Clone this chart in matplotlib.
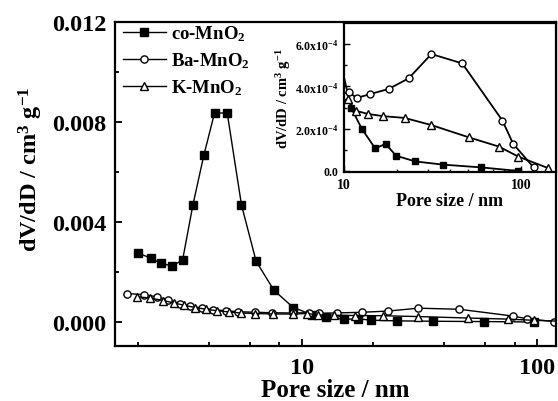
import matplotlib
matplotlib.use("Agg")
import matplotlib.pyplot as plt
from matplotlib.ticker import FixedLocator, FixedFormatter, NullFormatter

plt.rcParams['font.family'] = ['Liberation Serif', 'DejaVu Serif']
plt.rcParams['font.weight'] = 'bold'
plt.rcParams['mathtext.fontset'] = 'custom'
plt.rcParams['mathtext.rm'] = 'Liberation Serif:bold'
plt.rcParams['mathtext.bf'] = 'Liberation Serif:bold'
plt.rcParams['mathtext.it'] = 'Liberation Serif:bold:italic'
plt.rcParams['mathtext.default'] = 'rm'

# ---------------- data ----------------
co_x = [2.01, 2.27, 2.51, 2.79, 3.10, 3.43, 3.82, 4.24, 4.80, 5.52, 6.37, 7.58, 9.16,
        10.96, 12.6, 15.0, 17.2, 19.7, 25.3, 36.1, 59.2, 96.7]
co_y = [0.00276, 0.00255, 0.00235, 0.00224, 0.00247, 0.00468, 0.00668, 0.00836, 0.00836,
        0.00468, 0.00243, 0.00127, 0.00058, 0.00030, 0.00020, 0.000107, 0.000128, 0.000072,
        0.000045, 0.000030, 0.000017, 0.0]

ba_x = [1.80, 2.13, 2.41, 2.70, 3.03, 3.34, 3.74, 4.19, 4.75, 5.36, 6.31, 7.43, 9.13,
        10.7, 11.8, 14.1, 17.9, 23.2, 31.2, 46.6, 78.7, 90.5, 118.0]
ba_y = [0.00114, 0.00109, 0.00101, 0.00088, 0.00074, 0.00064, 0.00056, 0.00049, 0.00045,
        0.00041, 0.00039, 0.00037, 0.00036, 0.000372, 0.000345, 0.000364, 0.000388,
        0.000438, 0.000553, 0.000509, 0.000238, 0.000128, 0.000017]

k_x = [1.98, 2.25, 2.57, 2.85, 3.15, 3.50, 3.90, 4.35, 4.90, 5.50, 6.30, 7.50, 9.10,
       10.5, 11.65, 13.6, 16.7, 22.0, 31.2, 50.8, 75.3, 96.6, 143.0]
k_y = [0.00101, 0.00096, 0.00086, 0.00076, 0.00067, 0.00058, 0.00051, 0.00045, 0.00040,
       0.00036, 0.00034, 0.00032, 0.00032, 0.000340, 0.000285, 0.000270, 0.000259,
       0.000251, 0.000217, 0.000159, 0.000115, 0.000068, 0.000013]

series_labels = ['co-MnO$_2$', 'Ba-MnO$_2$', 'K-MnO$_2$']

main_yticks = [0.000, 0.004, 0.008, 0.012]
main_yticklabels = ['0.000', '0.004', '0.008', '0.012']
main_xticks = [10, 100]
main_xticklabels = ['10', '100']

inset_yticks = [0.0, 2.0e-4, 4.0e-4, 6.0e-4]
inset_yticklabels = ['0.0', '2.0x10$^{-4}$', '4.0x10$^{-4}$', '6.0x10$^{-4}$']
inset_xticks = [10, 100]
inset_xticklabels = ['10', '100']

# ---------------- figure ----------------
W, H = 558, 402
fig = plt.figure(figsize=(W / 100, H / 100), dpi=100)

def box(l, t, r, b):
    return [l / W, 1 - b / H, (r - l) / W, (b - t) / H]

ax = fig.add_axes(box(115, 23, 556, 347))
ms = 5.2
ax.plot(co_x, co_y, '-s', color='black', lw=1.0, ms=ms, mfc='black', mec='black',
        label=series_labels[0])
ax.plot(ba_x, ba_y, '-o', color='black', lw=1.0, ms=ms, mfc='white', mec='black',
        mew=1.0, label=series_labels[1])
ax.plot(k_x, k_y, '-^', color='black', lw=1.0, ms=ms + 0.6, mfc='white', mec='black',
        mew=1.0, label=series_labels[2])
ax.set_xscale('log')
ax.set_xlim(1.6, 120)
ax.set_ylim(-0.00096, 0.012)
ax.yaxis.set_major_locator(FixedLocator(main_yticks))
ax.yaxis.set_major_formatter(FixedFormatter(main_yticklabels))
ax.yaxis.set_minor_locator(FixedLocator([0.002, 0.006, 0.010]))
ax.xaxis.set_major_locator(FixedLocator(main_xticks))
ax.xaxis.set_major_formatter(FixedFormatter(main_xticklabels))
ax.xaxis.set_minor_locator(FixedLocator([2, 4, 6, 8, 20, 40, 60, 80]))
ax.xaxis.set_minor_formatter(NullFormatter())
ax.tick_params(which='both', direction='in', top=False, right=False, width=1.3)
ax.tick_params(which='major', length=5, labelsize=17.5)
ax.tick_params(axis='y', which='major', pad=6)
ax.tick_params(axis='x', which='major', pad=8)
ax.tick_params(which='minor', length=3)
for s in ax.spines.values():
    s.set_linewidth(1.6)
ax.set_xlabel('Pore size / nm', fontsize=18, fontweight='bold', labelpad=0)
ax.set_ylabel('dV/dD / cm$^3$ g$^{-1}$', fontsize=17.5, fontweight='bold')
ax.yaxis.set_label_coords(-0.158, 0.55)
leg = ax.legend(loc='upper left', frameon=False, fontsize=13.5, handlelength=2.3,
                handletextpad=0.3, labelspacing=0.38, borderaxespad=0.0,
                bbox_to_anchor=(0.0, 1.018))

# ---------------- inset ----------------
axi = fig.add_axes(box(344, 24, 556, 173))
ms2 = 4.5
axi.plot(co_x, co_y, '-s', color='black', lw=1.3, ms=ms2, mfc='black', mec='black')
axi.plot(ba_x, ba_y, '-o', color='black', lw=1.3, ms=ms2 + 0.5, mfc='white', mec='black',
         mew=1.0)
axi.plot(k_x, k_y, '-^', color='black', lw=1.3, ms=ms2 + 1, mfc='white', mec='black',
         mew=1.0)
axi.set_xscale('log')
axi.set_xlim(10, 158)
axi.set_ylim(-0.05e-4, 7.0e-4)
axi.yaxis.set_major_locator(FixedLocator(inset_yticks))
axi.yaxis.set_major_formatter(FixedFormatter(inset_yticklabels))
axi.yaxis.set_minor_locator(FixedLocator([1e-4, 3e-4, 5e-4]))
axi.xaxis.set_major_locator(FixedLocator(inset_xticks))
axi.xaxis.set_major_formatter(FixedFormatter(inset_xticklabels))
axi.xaxis.set_minor_locator(FixedLocator([20, 30, 40, 50, 60, 70, 80, 90]))
axi.xaxis.set_minor_formatter(NullFormatter())
axi.tick_params(which='both', direction='in', top=False, right=False, width=1.0)
axi.tick_params(which='major', length=4)
axi.tick_params(axis='y', which='major', labelsize=8.5, pad=4)
axi.tick_params(axis='x', which='major', labelsize=10, pad=4)
axi.tick_params(which='minor', length=2.5)
for s in axi.spines.values():
    s.set_linewidth(1.6)
axi.set_xlabel('Pore size / nm', fontsize=13, fontweight='bold', labelpad=1)
axi.set_ylabel('dV/dD / cm$^3$ g$^{-1}$', fontsize=10.5, fontweight='bold', labelpad=2)

fig.savefig('out.png', dpi=100)
